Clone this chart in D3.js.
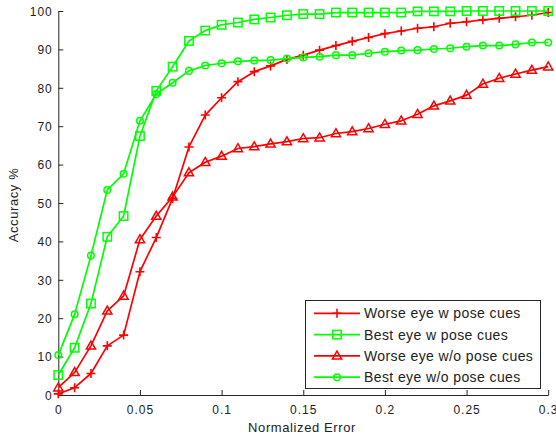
<!DOCTYPE html>
<html>
<head>
<meta charset="utf-8">
<script src="https://cdn.jsdelivr.net/npm/d3@7"></script>
<style>
  html, body { margin: 0; padding: 0; background: #fff; }
  svg { display: block; }
  text { font-family: "Liberation Sans", Arial, sans-serif; fill: #222; }
</style>
</head>
<body>
<svg id="chart" width="556" height="440"></svg>
<script>
const errors = [0,0.01,0.02,0.03,0.04,0.05,0.06,0.07,0.08,0.09,0.10,0.11,0.12,0.13,0.14,0.15,0.16,0.17,0.18,0.19,0.20,0.21,0.22,0.23,0.24,0.25,0.26,0.27,0.28,0.29,0.30];
const worseEyePose = [0.3,1.9,5.6,12.8,15.6,32.1,41.0,51.2,64.6,72.9,77.4,81.6,84.2,85.7,87.4,88.5,89.8,91.0,92.1,93.1,94.1,94.8,95.5,95.9,96.8,97.2,97.7,98.1,98.5,98.9,99.6];
const bestEyePose = [5.2,12.3,23.8,41.2,46.6,67.4,79.2,85.5,92.2,94.9,96.4,97.0,97.8,98.3,98.9,99.2,99.2,99.6,99.6,99.6,99.6,99.6,99.9,99.9,99.9,100,100,100,100,100,100];
const worseEyeNoPose = [1.9,5.9,12.8,21.9,25.8,40.5,46.6,51.6,57.9,60.6,62.2,64.2,64.7,65.4,66.0,66.8,67.0,68.1,68.6,69.4,70.5,71.4,73.1,75.3,76.6,78.1,81.0,82.5,83.6,84.6,85.5];
const bestEyeNoPose = [10.4,21.0,36.3,53.4,57.6,71.4,78.4,81.3,84.4,85.8,86.4,86.9,87.1,87.2,87.6,87.9,88.1,88.5,88.5,89.0,89.4,89.7,89.8,90.1,90.3,90.7,91.0,91.0,91.3,91.8,91.8];
const seriesNames = ["Worse eye w pose cues","Best eye w pose cues","Worse eye w/o pose cues","Best eye w/o pose cues"];
const seriesColors = ["#ff0000","#00ff00","#ff0000","#00ff00"];
const seriesMarkers = ["plus","square","triangle","circle"];
const xTicks = [0,0.05,0.1,0.15,0.2,0.25,0.3];
const yTicks = [0,10,20,30,40,50,60,70,80,90,100];
const xLabel = "Normalized Error";
const yLabel = "Accuracy %";

const seriesValues = [worseEyePose, bestEyePose, worseEyeNoPose, bestEyeNoPose];

const svg = d3.select("#chart");
const x = d3.scaleLinear().domain([0, 0.3]).range([58.3, 548.2]);
const y = d3.scaleLinear().domain([0, 100]).range([395, 11]);
const axisColor = "#262626";

// axes
const gx = svg.append("g").attr("transform", "translate(0,395)")
  .call(d3.axisBottom(x).tickValues(xTicks).tickSizeInner(-5).tickSizeOuter(0).tickPadding(14)
    .tickFormat(d => d === 0 ? "0" : String(+d.toFixed(2))));
const gy = svg.append("g").attr("transform", "translate(58.3,0)")
  .call(d3.axisLeft(y).tickValues(yTicks).tickSizeInner(-5).tickSizeOuter(0).tickPadding(10));
[gx, gy].forEach(g => {
  g.select(".domain").attr("stroke", axisColor).attr("stroke-width", 1);
  g.selectAll(".tick line").attr("stroke", axisColor).attr("stroke-width", 1);
  g.selectAll(".tick text").attr("font-family", "Liberation Sans, Arial, sans-serif")
    .attr("font-size", 12).attr("fill", "#222").style("letter-spacing", "1px");
});
gx.selectAll(".tick text").attr("dy", null).attr("y", 19);
gy.selectAll(".tick text").attr("x", -5.5).attr("dy", "0.36em");

// axis labels
svg.append("text").attr("x", 302).attr("y", 432).attr("text-anchor", "middle")
  .attr("font-size", 13).style("letter-spacing", "0.6px").text(xLabel);
svg.append("text").attr("transform", "translate(18,205) rotate(-90)").attr("text-anchor", "middle")
  .attr("font-size", 13).style("letter-spacing", "0.6px").text(yLabel);

function drawMarker(g, type, color) {
  if (type === "plus") {
    g.append("path").attr("d", "M-4.5,0H4.5M0,-4.5V4.5").attr("stroke", color).attr("stroke-width", 1.6).attr("fill", "none");
  } else if (type === "square") {
    g.append("rect").attr("x", -4.2).attr("y", -4.2).attr("width", 8.4).attr("height", 8.4)
      .attr("stroke", color).attr("stroke-width", 1.5).attr("fill", "none");
  } else if (type === "triangle") {
    g.append("path").attr("d", "M0,-4.8L4.6,3.2L-4.6,3.2Z").attr("stroke", color).attr("stroke-width", 1.5).attr("fill", "none");
  } else if (type === "circle") {
    g.append("circle").attr("r", 3.3).attr("stroke", color).attr("stroke-width", 1.5).attr("fill", "none");
  }
}

const line = d3.line().x(d => x(d[0])).y(d => y(d[1]));
seriesValues.forEach((vals, i) => {
  const pts = errors.map((e, j) => [e, vals[j]]);
  const g = svg.append("g");
  g.append("path").attr("d", line(pts)).attr("fill", "none")
    .attr("stroke", seriesColors[i]).attr("stroke-width", 1.7).attr("stroke-linejoin", "round");
  pts.forEach(p => {
    const mg = g.append("g").attr("transform", `translate(${x(p[0])},${y(p[1])})`);
    drawMarker(mg, seriesMarkers[i], seriesColors[i]);
  });
});

// legend
const lg = svg.append("g");
lg.append("rect").attr("x", 305.5).attr("y", 300.5).attr("width", 235).attr("height", 88)
  .attr("fill", "#fff").attr("stroke", axisColor).attr("stroke-width", 1);
seriesNames.forEach((name, i) => {
  const cy = 313.3 + i * 21.3;
  lg.append("line").attr("x1", 314).attr("x2", 360).attr("y1", cy).attr("y2", cy)
    .attr("stroke", seriesColors[i]).attr("stroke-width", 1.7);
  const mg = lg.append("g").attr("transform", `translate(337,${cy})`);
  drawMarker(mg, seriesMarkers[i], seriesColors[i]);
  lg.append("text").attr("x", 364).attr("y", cy).attr("dy", "0.36em")
    .attr("font-size", 14).style("letter-spacing", "0.4px").text(name);
});
</script>
</body>
</html>
